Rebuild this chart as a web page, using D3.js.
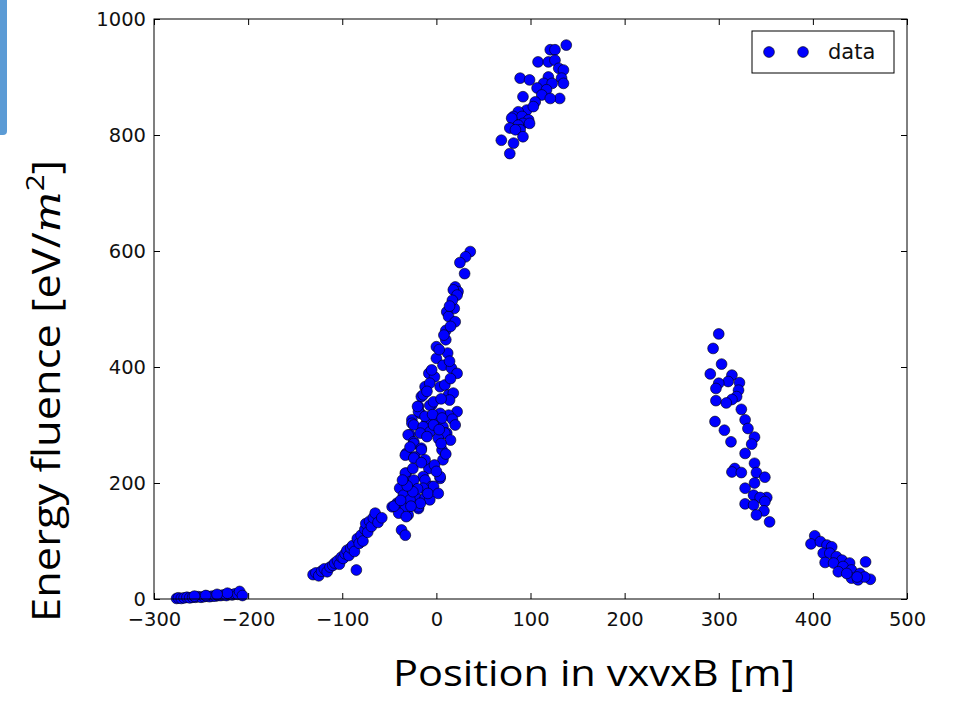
<!DOCTYPE html>
<html lang="en">
  <head>
    <meta charset="UTF-8" />
    <title>Energy fluence</title>
    <style>
      body { margin: 0; background: #fff; }
      svg { display: block; }
    </style>
  </head>
  <body>
    <div id="chart"></div>
    <script src="https://cdn.jsdelivr.net/npm/d3@7/dist/d3.min.js"></script>
    <script>
      // values: [position (m), energy fluence (eV/m^2)]
      const groundLeft = [
        [-276, 1], [-274, 2], [-271, 1], [-268, 2], [-265, 3], [-262, 2], [-259, 3],
        [-256, 3], [-253, 4], [-250, 3], [-247, 4], [-244, 5], [-241, 4], [-238, 5],
        [-235, 5], [-232, 6], [-229, 6], [-226, 7], [-223, 6], [-220, 8], [-217, 7],
        [-214, 9], [-211, 8], [-209, 13], [-206, 6], [-222, 10], [-233, 8], [-245, 6], [-257, 5]
      ];
      const rampLeft = [
        [-131, 42], [-128, 45], [-125, 40], [-122, 48], [-119, 52], [-116, 47], [-113, 55],
        [-110, 58], [-108, 62], [-105, 66], [-103, 60], [-101, 72], [-99, 70], [-97, 78],
        [-95, 84], [-93, 75], [-91, 88], [-89, 92], [-87, 82], [-85, 50], [-84, 104],
        [-82, 96], [-80, 110], [-78, 100], [-76, 120], [-75, 130], [-73, 115], [-71, 134],
        [-69, 125], [-67, 140], [-65, 148], [-62, 132], [-58, 140]
      ];
      const core = [
        [36, 599], [31, 590], [25, 580], [30, 561], [20, 538], [23, 530], [18, 533], [22, 524],
        [19, 501], [11, 495], [13, 487], [20, 478], [10, 463], [10, 447], [0, 435], [12, 424],
        [0, 415], [7, 403], [16, 398], [22, 389], [-8, 389], [-2, 383], [-12, 366], [-7, 372],
        [4, 366], [9, 369], [13, 352], [18, 355], [-16, 349], [-14, 352], [14, 343], [-19, 332],
        [-5, 334], [-7, 334], [22, 323], [13, 317], [4, 320], [-17, 320], [-19, 323], [-26, 309],
        [-26, 303], [-10, 306], [-8, 309], [0, 306], [7, 297], [11, 286], [-24, 300], [-14, 297],
        [-7, 288], [9, 286], [-28, 283], [-30, 283], [-17, 286], [2, 277], [15, 274], [-24, 271],
        [-24, 268], [-16, 260], [-16, 257], [-32, 251], [-33, 248], [6, 257], [-23, 245],
        [-24, 243], [7, 240], [-8, 225], [-2, 231], [-14, 211], [4, 208], [4, 211], [-32, 217],
        [-33, 217], [-28, 202], [-24, 205], [-12, 205], [-5, 194], [-3, 194], [-37, 191],
        [-39, 191], [-14, 191], [-21, 174], [-12, 174], [-32, 176], [-35, 179], [-7, 171],
        [-28, 171], [-47, 159], [-42, 165], [-40, 165], [-35, 150], [-30, 145], [-33, 156],
        [-19, 156], [-19, 159], [-40, 148], [-32, 142], [-37, 119], [-33, 110],
        [-20, 332], [-12, 315], [-4, 318], [6, 312], [17, 310], [20, 300], [-3, 300], [3, 292],
        [-10, 280], [5, 268], [-28, 262], [-12, 240], [-25, 225], [0, 220], [-20, 190],
        [-25, 185], [-45, 160], [-38, 170], [-17, 165], [-27, 160], [-9, 182], [2, 182],
        [10, 250], [-3, 340], [5, 345], [-10, 358], [15, 380], [-5, 395], [3, 430], [14, 410],
        [8, 455], [15, 470], [17, 515], [14, 505], [-31, 195], [-36, 205], [-16, 235]
      ];
      const peak = [
        [138, 955], [121, 947], [126, 947], [108, 926], [119, 926], [126, 929], [130, 915],
        [135, 912], [89, 898], [99, 895], [119, 900], [133, 898], [135, 889], [114, 889],
        [123, 889], [107, 881], [117, 878], [131, 863], [112, 869], [121, 863], [92, 866],
        [105, 857], [96, 843], [103, 849], [87, 840], [82, 832], [91, 832], [98, 826],
        [80, 829], [92, 820], [87, 817], [99, 820], [78, 812], [89, 809], [84, 809],
        [92, 797], [69, 791], [82, 786], [78, 768]
      ];
      const fallRight = [
        [300, 457], [294, 432], [303, 405], [291, 388], [314, 386], [310, 375], [300, 372],
        [322, 373], [297, 363], [321, 360], [319, 349], [314, 344], [297, 342], [308, 338],
        [324, 327], [328, 309], [296, 306], [331, 294], [306, 291], [338, 279], [313, 271],
        [335, 267], [328, 251], [338, 234], [317, 225], [314, 219], [324, 218], [340, 218],
        [349, 210], [338, 200], [328, 191], [337, 179], [351, 175], [344, 175], [349, 168],
        [328, 164], [337, 162], [348, 152], [340, 145], [354, 133]
      ];
      const tailRight = [
        [402, 109], [398, 95], [408, 99], [415, 93], [420, 90], [411, 79], [418, 79],
        [425, 73], [431, 67], [413, 63], [422, 62], [439, 62], [456, 64], [432, 56],
        [427, 47], [441, 50], [450, 44], [441, 36], [448, 33], [461, 34], [455, 38],
        [447, 38], [436, 44]
      ];
      const xTicks = [-300, -200, -100, 0, 100, 200, 300, 400, 500];
      const yTicks = [0, 200, 400, 600, 800, 1000];
      const legendLabel = "data";

      const width = 954, height = 701;
      const margin = { left: 154, right: 47, top: 19, bottom: 102 };
      const innerW = width - margin.left - margin.right;
      const innerH = height - margin.top - margin.bottom;

      const svg = d3.select("#chart").append("svg")
        .attr("width", width)
        .attr("height", height);

      // slide decoration at the left edge
      svg.append("rect")
        .attr("x", -6).attr("y", -6)
        .attr("width", 13).attr("height", 141)
        .attr("rx", 4)
        .attr("fill", "#5b9bd5");

      const x = d3.scaleLinear().domain([-300, 500]).range([0, innerW]);
      const y = d3.scaleLinear().domain([0, 1000]).range([innerH, 0]);

      const g = svg.append("g")
        .attr("transform", `translate(${margin.left},${margin.top})`);

      const points = [].concat(groundLeft, rampLeft, core, peak, fallRight, tailRight);

      g.append("g")
        .selectAll("circle")
        .data(points)
        .join("circle")
        .attr("cx", d => x(d[0]))
        .attr("cy", d => y(d[1]))
        .attr("r", 5.4)
        .attr("fill", "#0000ff")
        .attr("stroke", "#000")
        .attr("stroke-width", 0.6);

      const tickFont = "'DejaVu Sans', sans-serif";
      const fmt = d3.format("d");

      // axes: ticks point inward, as in the classic matplotlib style
      const axBottom = g.append("g")
        .attr("transform", `translate(0,${innerH})`)
        .call(d3.axisBottom(x).tickValues(xTicks).tickFormat(fmt).tickSize(-6).tickPadding(13).tickSizeOuter(0));
      const axTop = g.append("g")
        .call(d3.axisTop(x).tickValues(xTicks).tickSize(-6).tickFormat("").tickSizeOuter(0));
      const axLeft = g.append("g")
        .call(d3.axisLeft(y).tickValues(yTicks).tickFormat(fmt).tickSize(-6).tickPadding(8).tickSizeOuter(0));
      const axRight = g.append("g")
        .attr("transform", `translate(${innerW},0)`)
        .call(d3.axisRight(y).tickValues(yTicks).tickSize(-6).tickFormat("").tickSizeOuter(0));

      [axBottom, axTop, axLeft, axRight].forEach(a => {
        a.select(".domain").remove();
        a.selectAll("line").attr("stroke", "#000");
        a.selectAll("text")
          .attr("fill", "#111")
          .style("font-family", tickFont)
          .style("font-size", "19.5px");
      });

      g.append("rect")
        .attr("width", innerW)
        .attr("height", innerH)
        .attr("fill", "none")
        .attr("stroke", "#000")
        .attr("stroke-width", 1);

      // legend
      const lg = g.append("g").attr("transform", `translate(${innerW - 155},12)`);
      lg.append("rect")
        .attr("width", 142).attr("height", 42)
        .attr("fill", "#fff")
        .attr("stroke", "#000");
      [17, 51].forEach(cx => {
        lg.append("circle")
          .attr("cx", cx).attr("cy", 21).attr("r", 5.4)
          .attr("fill", "#0000ff").attr("stroke", "#000").attr("stroke-width", 0.6);
      });
      lg.append("text")
        .attr("x", 76).attr("y", 28)
        .style("font-family", tickFont)
        .style("font-size", "21px")
        .attr("fill", "#111")
        .text(legendLabel);

      // axis titles
      const titleFont = "'Open Sans', sans-serif";

      svg.append("text")
        .attr("x", 594).attr("y", 686)
        .attr("text-anchor", "middle")
        .style("font-family", titleFont)
        .style("font-size", "36px")
        .attr("fill", "#000")
        .attr("textLength", 402)
        .attr("lengthAdjust", "spacingAndGlyphs")
        .text("Position in vxvxB [m]");

      const yt = svg.append("text")
        .attr("transform", "translate(60,391) rotate(-90)")
        .attr("text-anchor", "middle")
        .style("font-family", titleFont)
        .style("font-size", "38px")
        .attr("fill", "#000");
      yt.append("tspan").text("Energy fluence [eV/");
      yt.append("tspan")
        .style("font-family", "'DejaVu Serif', serif")
        .style("font-style", "italic")
        .text("m");
      yt.append("tspan")
        .attr("dy", -16)
        .style("font-size", "26px")
        .text("2");
      yt.append("tspan")
        .attr("dy", 16)
        .text("]");
      yt.attr("textLength", 462).attr("lengthAdjust", "spacingAndGlyphs");
    </script>
  </body>
</html>
